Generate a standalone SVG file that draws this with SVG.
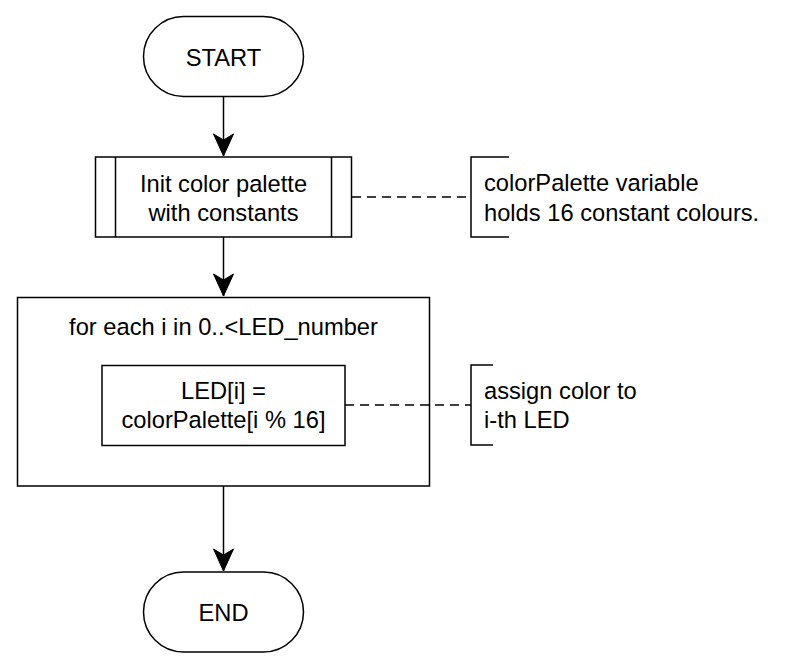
<svg xmlns="http://www.w3.org/2000/svg" width="790" height="670" viewBox="0 0 790 670">
<style>
.shape{fill:#ffffff;stroke:#000000;stroke-width:1.5}
.line{fill:none;stroke:#000000;stroke-width:1.5}
.dash{fill:none;stroke:#000000;stroke-width:1.5;stroke-dasharray:9 6}
text{font-family:"Liberation Sans",Arial,sans-serif;font-size:23.7px;fill:#000000}
.c{text-anchor:middle}
</style>
<defs>
<marker id="arrow" markerUnits="userSpaceOnUse" markerWidth="24" markerHeight="24" viewBox="-23 -11 24 22" refX="0" refY="0" orient="auto">
<path d="M0,0 L-22,-10 L-16,0 L-22,10 Z" fill="#000000" stroke="#000000" stroke-width="1"/>
</marker>
</defs>
<rect width="790" height="670" fill="#ffffff"/>
<g id="connectors">
<line class="line" x1="223.5" y1="97" x2="223.5" y2="156" marker-end="url(#arrow)"/>
<line class="line" x1="223.5" y1="237" x2="223.5" y2="296" marker-end="url(#arrow)"/>
<line class="line" x1="223.5" y1="486" x2="223.5" y2="571" marker-end="url(#arrow)"/>
<line class="dash" x1="352" y1="197" x2="471" y2="197"/>
<line class="dash" x1="345" y1="405" x2="471" y2="405"/>
</g>
<g id="start">
<rect class="shape" x="143.5" y="16.5" width="160" height="80" rx="40" ry="40"/>
<text class="c" x="223.5" y="65.5">START</text>
</g>
<g id="init">
<rect class="shape" x="95.5" y="157" width="256" height="80"/>
<line class="line" x1="115.5" y1="157" x2="115.5" y2="237"/>
<line class="line" x1="331.5" y1="157" x2="331.5" y2="237"/>
<text class="c" x="223.5" y="192">Init color palette</text>
<text class="c" x="223.5" y="221">with constants</text>
</g>
<g id="note1">
<path class="line" d="M509,157 H471 V237 H509"/>
<text x="484" y="191">colorPalette variable</text>
<text x="484" y="221">holds 16 constant colours.</text>
</g>
<g id="loop">
<rect class="shape" x="17.5" y="297.5" width="412" height="188.5" style="fill:none"/>
<text class="c" x="223.5" y="335">for each i in 0..&lt;LED_number</text>
</g>
<g id="assign">
<rect class="shape" x="102" y="365.5" width="243" height="80"/>
<text class="c" x="223.5" y="399">LED[i] =</text>
<text class="c" x="223.5" y="428">colorPalette[i % 16]</text>
</g>
<g id="note2">
<path class="line" d="M493,365 H471 V445 H493"/>
<text x="484" y="399">assign color to</text>
<text x="484" y="428">i-th LED</text>
</g>
<g id="end">
<rect class="shape" x="143.5" y="572" width="160" height="80" rx="40" ry="40"/>
<text class="c" x="223.5" y="620.5">END</text>
</g>
</svg>
